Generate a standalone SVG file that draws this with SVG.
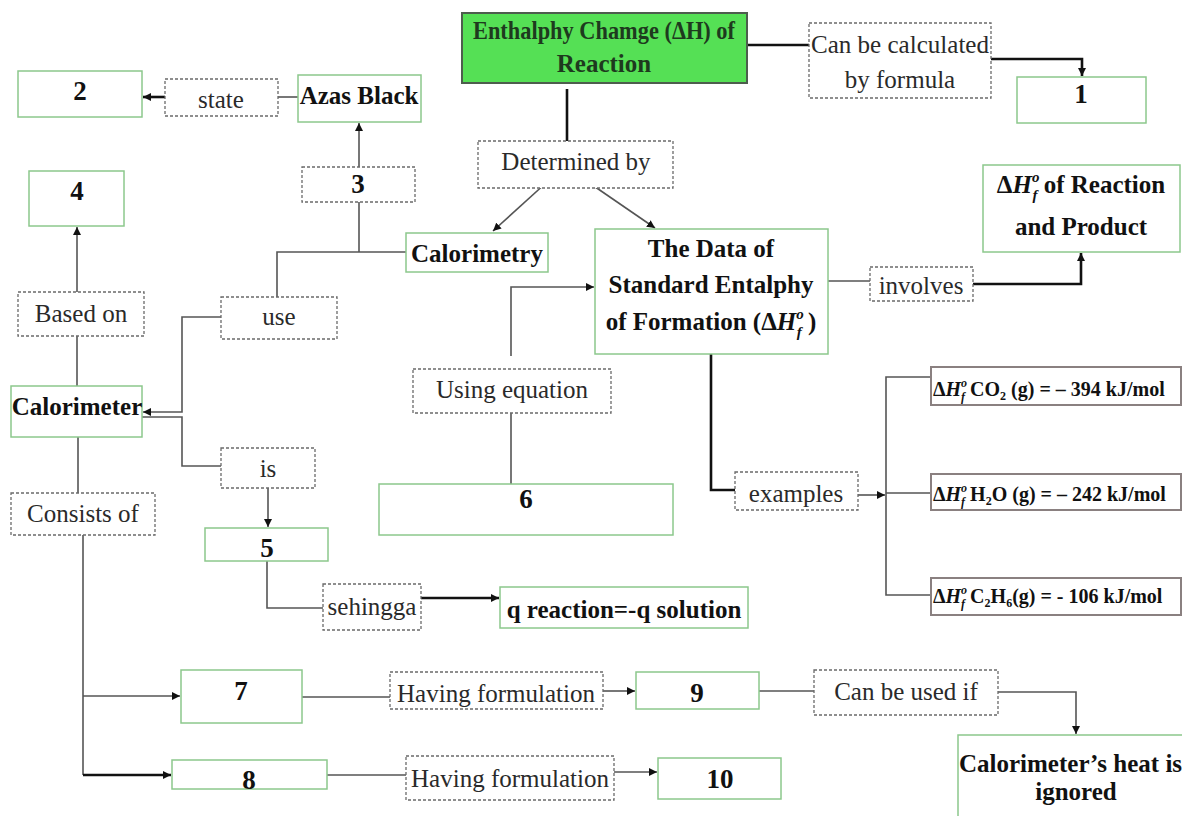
<svg xmlns="http://www.w3.org/2000/svg" width="1182" height="816" viewBox="0 0 1182 816">
<style>
.n{fill:#fff;stroke:#8cc88c;stroke-width:1.5}
.d{fill:#fff;stroke:#6a6a6a;stroke-width:1.3;stroke-dasharray:3 2}
.e{fill:#fff;stroke:#8a8080;stroke-width:2}
.g{fill:#55e055;stroke:#4d5d4d;stroke-width:2}
text{font-family:'Liberation Serif','Times New Roman',Tinos,'DejaVu Serif',serif}
.t{font-size:25px;fill:#2a2a2a;text-anchor:middle}
.b{font-weight:bold;fill:#111}
.num{font-size:27px}
.ex{font-size:20px;text-anchor:start}
.c{fill:none;stroke:#555;stroke-width:1.6}
.k{fill:none;stroke:#111;stroke-width:2.6}
</style>
<defs>
<marker id="ah" markerUnits="userSpaceOnUse" markerWidth="8" markerHeight="8" refX="8" refY="4" orient="auto">
<path d="M0,0 L8,4 L0,8 z" fill="#111"/>
</marker>
</defs>
<rect width="1182" height="816" fill="#fff"/>
<g id="connectors">
<path class="k" d="M165,97 H143" marker-end="url(#ah)"/>
<path class="c" d="M298,97 H278"/>
<path class="c" d="M406,252 H277 V297"/>
<path class="c" d="M359,252 V123" marker-end="url(#ah)"/>
<path class="c" d="M77,292 V227" stroke-width="2" marker-end="url(#ah)"/>
<path class="c" d="M77,336 V386"/>
<path class="c" d="M221,317 H182 V412 H143" stroke-width="2" marker-end="url(#ah)"/>
<path class="c" d="M142,417 H182 V466 H221"/>
<path class="c" d="M268,488 V527" stroke="#333" marker-end="url(#ah)"/>
<path class="c" d="M267,561 V608 H323"/>
<path class="k" d="M421,598 H499" marker-end="url(#ah)"/>
<path class="c" d="M78,437 V493"/>
<path class="c" d="M83,535 V775"/>
<path class="k" d="M83,775 H171" stroke-width="2.2" marker-end="url(#ah)"/>
<path class="c" d="M83,696 H180" marker-end="url(#ah)"/>
<path class="c" d="M302,697 H390" stroke="#333"/>
<path class="c" d="M603,691 H635" stroke="#333" marker-end="url(#ah)"/>
<path class="c" d="M327,775 H406"/>
<path class="c" d="M614,772 H657" stroke="#333" marker-end="url(#ah)"/>
<path class="c" d="M759,691 H814" stroke-width="2.4"/>
<path class="c" d="M998,692 H1076 V734" stroke="#333" stroke-width="2" marker-end="url(#ah)"/>
<path class="k" d="M747,45 H809" stroke-width="3"/>
<path class="k" d="M991,59 H1082 V76" marker-end="url(#ah)"/>
<path class="k" d="M567,89 V141" stroke-width="3"/>
<path class="c" d="M547,182 L493,231" stroke="#333" marker-end="url(#ah)"/>
<path class="c" d="M588,182 L655,228" stroke="#333" marker-end="url(#ah)"/>
<path class="c" d="M828,281 H870"/>
<path class="k" d="M973,284 H1081 V253" marker-end="url(#ah)"/>
<path class="k" d="M711,354 V490 H735" stroke="#333" stroke-width="3"/>
<path class="c" d="M858,495 H885" stroke="#333" marker-end="url(#ah)"/>
<path class="c" d="M931,377 H886 V595 H931 M886,493 H931"/>
<path class="c" d="M511,356 V287 H594" stroke="#333" stroke-width="2" marker-end="url(#ah)"/>
<path class="c" d="M511,413 V484"/>
</g>
<g id="n-enthalpy"><rect class="g" x="462" y="13" width="285" height="70"/>
<text class="t b" x="604" y="39" style="fill:#1e3a1e" font-size="23" textLength="262" lengthAdjust="spacingAndGlyphs">Enthalphy Chamge (ΔH) of</text>
<text class="t b" x="604" y="72" style="fill:#1e3a1e" font-size="23">Reaction</text></g>
<g id="n-calc"><rect class="d" x="809" y="23" width="182" height="75"/>
<text class="t" x="900" y="53" textLength="178" lengthAdjust="spacingAndGlyphs">Can be calculated</text><text class="t" x="900" y="88">by formula</text></g>
<g id="n-1"><rect class="n" x="1017" y="77" width="129" height="46"/><text class="t b num" x="1081" y="103">1</text></g>
<g id="n-2"><rect class="n" x="18" y="71" width="124" height="46"/><text class="t b num" x="80" y="100">2</text></g>
<g id="n-state"><rect class="d" x="165" y="79" width="113" height="37"/><text class="t" x="221" y="108">state</text></g>
<g id="n-azas"><rect class="n" x="298" y="75" width="123" height="47"/><text class="t b" x="359" y="104">Azas Black</text></g>
<g id="n-3"><rect class="d" x="302" y="167" width="113" height="35"/><text class="t b num" x="358" y="193">3</text></g>
<g id="n-4"><rect class="n" x="29" y="171" width="95" height="55"/><text class="t b num" x="77" y="200">4</text></g>
<g id="n-determined"><rect class="d" x="478" y="141" width="195" height="47"/><text class="t" x="576" y="170" font-size="23">Determined by</text></g>
<g id="n-calorimetry"><rect class="n" x="406" y="233" width="142" height="39"/><text class="t b" x="477" y="262">Calorimetry</text></g>
<g id="n-data"><rect class="n" x="595" y="229" width="233" height="125"/>
<text class="t b" x="711" y="257" font-size="24">The Data of</text>
<text class="t b" x="711" y="293" font-size="24">Standard Entalphy</text>
<text class="t b" x="711" y="330" font-size="24">of Formation (Δ<tspan font-style="italic">H</tspan><tspan font-size="15" font-style="italic" dy="-11">o</tspan><tspan font-size="15" font-style="italic" dx="-7" dy="18">f</tspan><tspan dy="-7"> )</tspan></text></g>
<g id="n-dhf"><rect class="n" x="983" y="165" width="197" height="87"/>
<text class="t b" x="1081" y="193">Δ<tspan font-style="italic">H</tspan><tspan font-size="15" font-style="italic" dy="-11">o</tspan><tspan font-size="15" font-style="italic" dx="-7" dy="18">f</tspan><tspan dy="-7"> of Reaction</tspan></text>
<text class="t b" x="1081" y="235">and Product</text></g>
<g id="n-involves"><rect class="d" x="870" y="267" width="103" height="34"/><text class="t" x="921" y="294" font-size="24">involves</text></g>
<g id="n-basedon"><rect class="d" x="18" y="292" width="126" height="44"/><text class="t" x="81" y="322">Based on</text></g>
<g id="n-use"><rect class="d" x="221" y="297" width="116" height="42"/><text class="t" x="279" y="325">use</text></g>
<g id="n-calorimeter"><rect class="n" x="11" y="386" width="131" height="51"/><text class="t b" x="77" y="415">Calorimeter</text></g>
<g id="n-using"><rect class="d" x="413" y="369" width="198" height="44"/><text class="t" x="512" y="398">Using equation</text></g>
<g id="n-is"><rect class="d" x="221" y="448" width="94" height="40"/><text class="t" x="268" y="477">is</text></g>
<g id="n-6"><rect class="n" x="379" y="484" width="294" height="51"/><text class="t b num" x="526" y="508">6</text></g>
<g id="n-examples"><rect class="d" x="735" y="472" width="123" height="38"/><text class="t" x="796" y="502">examples</text></g>
<g id="n-co2"><rect class="e" x="931" y="367" width="250" height="38"/>
<text class="t b ex" x="933" y="396">Δ<tspan font-style="italic">H</tspan><tspan font-size="12" font-style="italic" dy="-9">o</tspan><tspan font-size="12" font-style="italic" dx="-6" dy="14">f</tspan><tspan dy="-5"> CO</tspan><tspan font-size="12" dy="4">2</tspan><tspan dy="-4"> (g) = – 394 kJ/mol</tspan></text></g>
<g id="n-h2o"><rect class="e" x="931" y="474" width="250" height="36"/>
<text class="t b ex" x="933" y="501">Δ<tspan font-style="italic">H</tspan><tspan font-size="12" font-style="italic" dy="-9">o</tspan><tspan font-size="12" font-style="italic" dx="-6" dy="14">f</tspan><tspan dy="-5"> H</tspan><tspan font-size="12" dy="4">2</tspan><tspan dy="-4">O (g) = – 242 kJ/mol</tspan></text></g>
<g id="n-c2h6"><rect class="e" x="931" y="578" width="250" height="37"/>
<text class="t b ex" x="933" y="603">Δ<tspan font-style="italic">H</tspan><tspan font-size="12" font-style="italic" dy="-9">o</tspan><tspan font-size="12" font-style="italic" dx="-6" dy="14">f</tspan><tspan dy="-5"> C</tspan><tspan font-size="12" dy="4">2</tspan><tspan dy="-4">H</tspan><tspan font-size="12" dy="4">6</tspan><tspan dy="-4">(g) = - 106 kJ/mol</tspan></text></g>
<g id="n-consists"><rect class="d" x="11" y="493" width="144" height="42"/><text class="t" x="83" y="522">Consists of</text></g>
<g id="n-5"><rect class="n" x="205" y="528" width="123" height="33"/><text class="t b num" x="267" y="557">5</text></g>
<g id="n-sehingga"><rect class="d" x="323" y="584" width="98" height="46"/><text class="t" x="372" y="615" font-size="24">sehingga</text></g>
<g id="n-q"><rect class="n" x="500" y="587" width="248" height="41"/><text class="t b" x="624" y="618" font-size="24">q reaction=-q solution</text></g>
<g id="n-7"><rect class="n" x="181" y="670" width="121" height="53"/><text class="t b num" x="241" y="700">7</text></g>
<g id="n-hf1"><rect class="d" x="390" y="672" width="213" height="37"/><text class="t" x="496" y="702">Having formulation</text></g>
<g id="n-9"><rect class="n" x="636" y="672" width="123" height="37"/><text class="t b num" x="697" y="702">9</text></g>
<g id="n-canused"><rect class="d" x="814" y="670" width="184" height="45"/><text class="t" x="906" y="700">Can be used if</text></g>
<g id="n-8"><rect class="n" x="172" y="760" width="155" height="29"/><text class="t b num" x="249" y="789">8</text></g>
<g id="n-hf2"><rect class="d" x="406" y="756" width="208" height="44"/><text class="t" x="510" y="787">Having formulation</text></g>
<g id="n-10"><rect class="n" x="658" y="758" width="123" height="41"/><text class="t b num" x="720" y="788">10</text></g>
<g id="n-heat"><rect class="n" x="958" y="735" width="240" height="100"/>
<text class="t b" x="959" y="772" style="text-anchor:start">Calorimeter’s heat is</text>
<text class="t b" x="1076" y="800">ignored</text></g>
</svg>
